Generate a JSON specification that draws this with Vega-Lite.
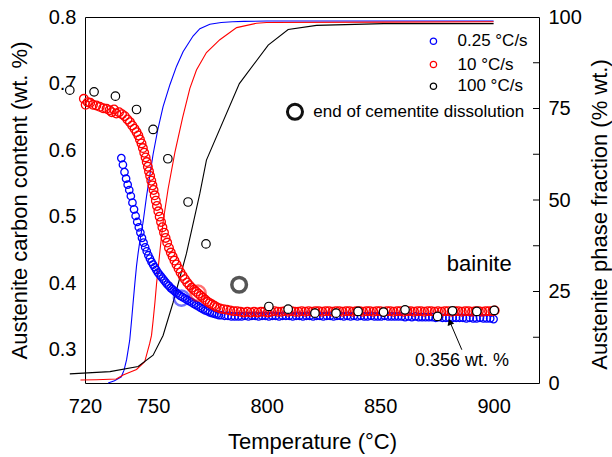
{
  "$schema": "https://vega.github.io/schema/vega-lite/v6.json",
  "width": 454,
  "height": 366,
  "autosize": {"type": "none"},
  "padding": {"left": 85, "top": 17, "right": 73, "bottom": 74},
  "config": {
    "font": "Liberation Sans",
    "view": {"stroke": "black", "strokeWidth": 1},
    "point": {"opacity": 1},
    "tick": {"opacity": 1},
    "axis": {
      "grid": false,
      "domain": false,
      "ticks": false,
      "labelColor": "black",
      "titleColor": "black",
      "labelFontSize": 20,
      "titleFontSize": 22,
      "titleFontWeight": "normal",
      "labelFlush": false,
      "labelOverlap": false
    }
  },
  "datasets": {
    "blue": [
      {"s":"0.25 °C/s","T":736.0,"C":0.588},{"s":"0.25 °C/s","T":736.7,"C":0.578},{"s":"0.25 °C/s","T":737.4,"C":0.567},{"s":"0.25 °C/s","T":738.1,"C":0.557},{"s":"0.25 °C/s","T":738.8,"C":0.548},{"s":"0.25 °C/s","T":739.5,"C":0.540},{"s":"0.25 °C/s","T":740.2,"C":0.531},{"s":"0.25 °C/s","T":740.9,"C":0.521},{"s":"0.25 °C/s","T":741.6,"C":0.511},{"s":"0.25 °C/s","T":742.3,"C":0.501},{"s":"0.25 °C/s","T":743.0,"C":0.492},{"s":"0.25 °C/s","T":743.7,"C":0.484},{"s":"0.25 °C/s","T":744.4,"C":0.476},{"s":"0.25 °C/s","T":745.1,"C":0.468},{"s":"0.25 °C/s","T":745.8,"C":0.461},{"s":"0.25 °C/s","T":746.5,"C":0.454},{"s":"0.25 °C/s","T":747.2,"C":0.448},{"s":"0.25 °C/s","T":747.9,"C":0.442},{"s":"0.25 °C/s","T":748.6,"C":0.437},{"s":"0.25 °C/s","T":749.3,"C":0.432},{"s":"0.25 °C/s","T":750.0,"C":0.428},{"s":"0.25 °C/s","T":750.7,"C":0.424},{"s":"0.25 °C/s","T":751.4,"C":0.420},{"s":"0.25 °C/s","T":752.1,"C":0.416},{"s":"0.25 °C/s","T":752.8,"C":0.413},{"s":"0.25 °C/s","T":753.5,"C":0.410},{"s":"0.25 °C/s","T":754.2,"C":0.407},{"s":"0.25 °C/s","T":754.9,"C":0.404},{"s":"0.25 °C/s","T":755.6,"C":0.401},{"s":"0.25 °C/s","T":756.3,"C":0.398},{"s":"0.25 °C/s","T":757.0,"C":0.396},{"s":"0.25 °C/s","T":757.7,"C":0.393},{"s":"0.25 °C/s","T":758.4,"C":0.391},{"s":"0.25 °C/s","T":759.1,"C":0.389},{"s":"0.25 °C/s","T":759.8,"C":0.387},{"s":"0.25 °C/s","T":760.5,"C":0.385},{"s":"0.25 °C/s","T":761.2,"C":0.383},{"s":"0.25 °C/s","T":762.0,"C":0.381},{"s":"0.25 °C/s","T":763.0,"C":0.379},{"s":"0.25 °C/s","T":764.0,"C":0.377},{"s":"0.25 °C/s","T":765.0,"C":0.375},{"s":"0.25 °C/s","T":766.0,"C":0.373},{"s":"0.25 °C/s","T":767.0,"C":0.371},{"s":"0.25 °C/s","T":768.0,"C":0.369},{"s":"0.25 °C/s","T":769.0,"C":0.367},{"s":"0.25 °C/s","T":770.0,"C":0.365},{"s":"0.25 °C/s","T":771.0,"C":0.363},{"s":"0.25 °C/s","T":772.0,"C":0.361},{"s":"0.25 °C/s","T":773.0,"C":0.359},{"s":"0.25 °C/s","T":774.0,"C":0.358},{"s":"0.25 °C/s","T":775.0,"C":0.356},{"s":"0.25 °C/s","T":776.0,"C":0.355},{"s":"0.25 °C/s","T":777.0,"C":0.354},{"s":"0.25 °C/s","T":778.0,"C":0.353},{"s":"0.25 °C/s","T":779.0,"C":0.352},{"s":"0.25 °C/s","T":780.0,"C":0.352},{"s":"0.25 °C/s","T":781.5,"C":0.351},{"s":"0.25 °C/s","T":783.0,"C":0.351},{"s":"0.25 °C/s","T":784.5,"C":0.350},{"s":"0.25 °C/s","T":786.0,"C":0.350},
      {"s":"0.25 °C/s","T":787.5,"C":0.350},{"s":"0.25 °C/s","T":789,"C":0.350},{"s":"0.25 °C/s","T":790.5,"C":0.351},{"s":"0.25 °C/s","T":792,"C":0.350},{"s":"0.25 °C/s","T":793.5,"C":0.351},{"s":"0.25 °C/s","T":795,"C":0.351},{"s":"0.25 °C/s","T":796.5,"C":0.350},{"s":"0.25 °C/s","T":798,"C":0.351},{"s":"0.25 °C/s","T":799.5,"C":0.351},{"s":"0.25 °C/s","T":801,"C":0.350},{"s":"0.25 °C/s","T":802.5,"C":0.351},{"s":"0.25 °C/s","T":804,"C":0.351},{"s":"0.25 °C/s","T":805.5,"C":0.350},{"s":"0.25 °C/s","T":807,"C":0.351},{"s":"0.25 °C/s","T":808.5,"C":0.351},{"s":"0.25 °C/s","T":810,"C":0.351},{"s":"0.25 °C/s","T":811.5,"C":0.350},{"s":"0.25 °C/s","T":813,"C":0.351},{"s":"0.25 °C/s","T":814.5,"C":0.351},{"s":"0.25 °C/s","T":816,"C":0.350},{"s":"0.25 °C/s","T":817.5,"C":0.351},{"s":"0.25 °C/s","T":819,"C":0.351},{"s":"0.25 °C/s","T":820.5,"C":0.350},{"s":"0.25 °C/s","T":822,"C":0.351},{"s":"0.25 °C/s","T":823.5,"C":0.351},{"s":"0.25 °C/s","T":825,"C":0.350},{"s":"0.25 °C/s","T":826.5,"C":0.351},{"s":"0.25 °C/s","T":828,"C":0.351},{"s":"0.25 °C/s","T":829.5,"C":0.350},{"s":"0.25 °C/s","T":831,"C":0.351},{"s":"0.25 °C/s","T":832.5,"C":0.351},{"s":"0.25 °C/s","T":834,"C":0.350},{"s":"0.25 °C/s","T":835.5,"C":0.351},{"s":"0.25 °C/s","T":837,"C":0.350},{"s":"0.25 °C/s","T":838.5,"C":0.351},{"s":"0.25 °C/s","T":840,"C":0.350},{"s":"0.25 °C/s","T":841.5,"C":0.351},{"s":"0.25 °C/s","T":843,"C":0.350},{"s":"0.25 °C/s","T":844.5,"C":0.350},{"s":"0.25 °C/s","T":846,"C":0.351},{"s":"0.25 °C/s","T":847.5,"C":0.350},{"s":"0.25 °C/s","T":849,"C":0.350},{"s":"0.25 °C/s","T":850.5,"C":0.350},{"s":"0.25 °C/s","T":852,"C":0.351},{"s":"0.25 °C/s","T":853.5,"C":0.350},{"s":"0.25 °C/s","T":855,"C":0.350},{"s":"0.25 °C/s","T":856.5,"C":0.350},{"s":"0.25 °C/s","T":858,"C":0.350},{"s":"0.25 °C/s","T":859.5,"C":0.350},{"s":"0.25 °C/s","T":861,"C":0.349},{"s":"0.25 °C/s","T":862.5,"C":0.350},{"s":"0.25 °C/s","T":864,"C":0.349},{"s":"0.25 °C/s","T":865.5,"C":0.350},{"s":"0.25 °C/s","T":867,"C":0.349},{"s":"0.25 °C/s","T":868.5,"C":0.349},{"s":"0.25 °C/s","T":870,"C":0.349},{"s":"0.25 °C/s","T":871.5,"C":0.349},{"s":"0.25 °C/s","T":873,"C":0.349},{"s":"0.25 °C/s","T":874.5,"C":0.348},{"s":"0.25 °C/s","T":876,"C":0.349},{"s":"0.25 °C/s","T":877.5,"C":0.348},{"s":"0.25 °C/s","T":879,"C":0.348},{"s":"0.25 °C/s","T":880.5,"C":0.348},{"s":"0.25 °C/s","T":882,"C":0.348},{"s":"0.25 °C/s","T":883.5,"C":0.348},{"s":"0.25 °C/s","T":885,"C":0.348},{"s":"0.25 °C/s","T":886.5,"C":0.348},{"s":"0.25 °C/s","T":888,"C":0.347},{"s":"0.25 °C/s","T":889.5,"C":0.348},{"s":"0.25 °C/s","T":891,"C":0.347},{"s":"0.25 °C/s","T":892.5,"C":0.347},{"s":"0.25 °C/s","T":894,"C":0.348},{"s":"0.25 °C/s","T":895.5,"C":0.347},{"s":"0.25 °C/s","T":897,"C":0.347},{"s":"0.25 °C/s","T":898.5,"C":0.347},{"s":"0.25 °C/s","T":900,"C":0.346}
    ],
    "red": [
      {"s":"10 °C/s","T":719.5,"C":0.677},{"s":"10 °C/s","T":720.3,"C":0.668},{"s":"10 °C/s","T":721.2,"C":0.672},{"s":"10 °C/s","T":722.3,"C":0.671},{"s":"10 °C/s","T":723.5,"C":0.668},{"s":"10 °C/s","T":725,"C":0.667},{"s":"10 °C/s","T":726.5,"C":0.665},{"s":"10 °C/s","T":728,"C":0.663},{"s":"10 °C/s","T":729.5,"C":0.662},{"s":"10 °C/s","T":730.8,"C":0.660},{"s":"10 °C/s","T":731.8,"C":0.657},{"s":"10 °C/s","T":732.8,"C":0.661},{"s":"10 °C/s","T":733.8,"C":0.655},{"s":"10 °C/s","T":735,"C":0.657},{"s":"10 °C/s","T":736.3,"C":0.654},{"s":"10 °C/s","T":737.5,"C":0.651},{"s":"10 °C/s","T":738.7,"C":0.646},{"s":"10 °C/s","T":739.8,"C":0.642},{"s":"10 °C/s","T":740.8,"C":0.637},{"s":"10 °C/s","T":741.8,"C":0.632},{"s":"10 °C/s","T":742.7,"C":0.627},{"s":"10 °C/s","T":743.5,"C":0.622},{"s":"10 °C/s","T":744.2,"C":0.616},{"s":"10 °C/s","T":744.9,"C":0.610},{"s":"10 °C/s","T":745.5,"C":0.603},{"s":"10 °C/s","T":746.1,"C":0.596},{"s":"10 °C/s","T":746.7,"C":0.589},{"s":"10 °C/s","T":747.2,"C":0.582},{"s":"10 °C/s","T":747.7,"C":0.575},{"s":"10 °C/s","T":748.2,"C":0.568},{"s":"10 °C/s","T":748.7,"C":0.561},{"s":"10 °C/s","T":749.2,"C":0.554},{"s":"10 °C/s","T":749.7,"C":0.547},{"s":"10 °C/s","T":750.2,"C":0.540},{"s":"10 °C/s","T":750.7,"C":0.532},{"s":"10 °C/s","T":751.2,"C":0.524},{"s":"10 °C/s","T":751.7,"C":0.516},{"s":"10 °C/s","T":752.3,"C":0.508},{"s":"10 °C/s","T":752.9,"C":0.500},{"s":"10 °C/s","T":753.5,"C":0.492},{"s":"10 °C/s","T":754.1,"C":0.484},{"s":"10 °C/s","T":754.8,"C":0.476},{"s":"10 °C/s","T":755.5,"C":0.468},{"s":"10 °C/s","T":756.2,"C":0.461},{"s":"10 °C/s","T":757.0,"C":0.453},{"s":"10 °C/s","T":757.8,"C":0.446},{"s":"10 °C/s","T":758.6,"C":0.440},{"s":"10 °C/s","T":759.4,"C":0.434},{"s":"10 °C/s","T":760.3,"C":0.428},{"s":"10 °C/s","T":761.2,"C":0.422},{"s":"10 °C/s","T":762.1,"C":0.416},{"s":"10 °C/s","T":763.0,"C":0.411},{"s":"10 °C/s","T":764.0,"C":0.406},{"s":"10 °C/s","T":765.0,"C":0.401},{"s":"10 °C/s","T":766.0,"C":0.397},{"s":"10 °C/s","T":767.0,"C":0.393},{"s":"10 °C/s","T":768.0,"C":0.390},{"s":"10 °C/s","T":769.0,"C":0.387},{"s":"10 °C/s","T":770.0,"C":0.384},{"s":"10 °C/s","T":771.0,"C":0.381},{"s":"10 °C/s","T":772.0,"C":0.378},{"s":"10 °C/s","T":773.0,"C":0.375},{"s":"10 °C/s","T":774.0,"C":0.372},{"s":"10 °C/s","T":775.0,"C":0.370},{"s":"10 °C/s","T":776.0,"C":0.368},{"s":"10 °C/s","T":777.0,"C":0.366},{"s":"10 °C/s","T":778.0,"C":0.364},{"s":"10 °C/s","T":779.5,"C":0.362},{"s":"10 °C/s","T":781,"C":0.361},{"s":"10 °C/s","T":782.5,"C":0.360},{"s":"10 °C/s","T":784,"C":0.359},{"s":"10 °C/s","T":785.5,"C":0.358},{"s":"10 °C/s","T":787,"C":0.358},
      {"s":"10 °C/s","T":788.5,"C":0.357},{"s":"10 °C/s","T":790,"C":0.356},{"s":"10 °C/s","T":791.5,"C":0.357},{"s":"10 °C/s","T":793,"C":0.356},{"s":"10 °C/s","T":794.5,"C":0.357},{"s":"10 °C/s","T":796,"C":0.356},{"s":"10 °C/s","T":797.5,"C":0.357},{"s":"10 °C/s","T":799,"C":0.357},{"s":"10 °C/s","T":800.5,"C":0.356},{"s":"10 °C/s","T":802,"C":0.357},{"s":"10 °C/s","T":803.5,"C":0.358},{"s":"10 °C/s","T":805,"C":0.357},{"s":"10 °C/s","T":806.5,"C":0.357},{"s":"10 °C/s","T":808,"C":0.358},{"s":"10 °C/s","T":809.5,"C":0.357},{"s":"10 °C/s","T":811,"C":0.358},{"s":"10 °C/s","T":812.5,"C":0.357},{"s":"10 °C/s","T":814,"C":0.357},{"s":"10 °C/s","T":815.5,"C":0.358},{"s":"10 °C/s","T":817,"C":0.357},{"s":"10 °C/s","T":818.5,"C":0.358},{"s":"10 °C/s","T":820,"C":0.357},{"s":"10 °C/s","T":821.5,"C":0.358},{"s":"10 °C/s","T":823,"C":0.358},{"s":"10 °C/s","T":824.5,"C":0.357},{"s":"10 °C/s","T":826,"C":0.358},{"s":"10 °C/s","T":827.5,"C":0.358},{"s":"10 °C/s","T":829,"C":0.357},{"s":"10 °C/s","T":830.5,"C":0.358},{"s":"10 °C/s","T":832,"C":0.358},{"s":"10 °C/s","T":833.5,"C":0.357},{"s":"10 °C/s","T":835,"C":0.358},{"s":"10 °C/s","T":836.5,"C":0.358},{"s":"10 °C/s","T":838,"C":0.357},{"s":"10 °C/s","T":839.5,"C":0.358},{"s":"10 °C/s","T":841,"C":0.358},{"s":"10 °C/s","T":842.5,"C":0.357},{"s":"10 °C/s","T":844,"C":0.358},{"s":"10 °C/s","T":845.5,"C":0.358},{"s":"10 °C/s","T":847,"C":0.357},{"s":"10 °C/s","T":848.5,"C":0.358},{"s":"10 °C/s","T":850,"C":0.358},{"s":"10 °C/s","T":851.5,"C":0.357},{"s":"10 °C/s","T":853,"C":0.358},{"s":"10 °C/s","T":854.5,"C":0.358},{"s":"10 °C/s","T":856,"C":0.357},{"s":"10 °C/s","T":857.5,"C":0.358},{"s":"10 °C/s","T":859,"C":0.358},{"s":"10 °C/s","T":860.5,"C":0.357},{"s":"10 °C/s","T":862,"C":0.358},{"s":"10 °C/s","T":863.5,"C":0.358},{"s":"10 °C/s","T":865,"C":0.357},{"s":"10 °C/s","T":866.5,"C":0.358},{"s":"10 °C/s","T":868,"C":0.358},{"s":"10 °C/s","T":869.5,"C":0.357},{"s":"10 °C/s","T":871,"C":0.358},{"s":"10 °C/s","T":872.5,"C":0.358},{"s":"10 °C/s","T":874,"C":0.357},{"s":"10 °C/s","T":875.5,"C":0.358},{"s":"10 °C/s","T":877,"C":0.357},{"s":"10 °C/s","T":878.5,"C":0.358},{"s":"10 °C/s","T":880,"C":0.358},{"s":"10 °C/s","T":881.5,"C":0.357},{"s":"10 °C/s","T":883,"C":0.358},{"s":"10 °C/s","T":884.5,"C":0.358},{"s":"10 °C/s","T":886,"C":0.357},{"s":"10 °C/s","T":887.5,"C":0.358},{"s":"10 °C/s","T":889,"C":0.358},{"s":"10 °C/s","T":890.5,"C":0.357},{"s":"10 °C/s","T":892,"C":0.358},{"s":"10 °C/s","T":893.5,"C":0.358},{"s":"10 °C/s","T":895,"C":0.357},{"s":"10 °C/s","T":896.5,"C":0.358},{"s":"10 °C/s","T":898,"C":0.358},{"s":"10 °C/s","T":899.5,"C":0.358},{"s":"10 °C/s","T":900.5,"C":0.359}
    ],
    "black": [
      {"s":"100 °C/s","T":713.3,"C":0.690},{"s":"100 °C/s","T":724,"C":0.6875},{"s":"100 °C/s","T":733.4,"C":0.681},{"s":"100 °C/s","T":742.7,"C":0.661},{"s":"100 °C/s","T":750,"C":0.631},{"s":"100 °C/s","T":756.5,"C":0.587},{"s":"100 °C/s","T":765.4,"C":0.522},{"s":"100 °C/s","T":773.3,"C":0.459},{"s":"100 °C/s","T":801,"C":0.365},{"s":"100 °C/s","T":809.5,"C":0.361},{"s":"100 °C/s","T":821.3,"C":0.355},{"s":"100 °C/s","T":830.6,"C":0.355},{"s":"100 °C/s","T":840.3,"C":0.3575},{"s":"100 °C/s","T":851.5,"C":0.3566},{"s":"100 °C/s","T":861,"C":0.360},{"s":"100 °C/s","T":875.3,"C":0.350},{"s":"100 °C/s","T":881.9,"C":0.3585},{"s":"100 °C/s","T":892.6,"C":0.3575},{"s":"100 °C/s","T":900.3,"C":0.359}
    ],
    "lines": [
      {"s":"0.25 °C/s","T":730.2,"F":0},{"s":"0.25 °C/s","T":733,"F":0.6},{"s":"0.25 °C/s","T":736,"F":1.7},{"s":"0.25 °C/s","T":737.2,"F":3.5},{"s":"0.25 °C/s","T":738.3,"F":6.3},{"s":"0.25 °C/s","T":739.0,"F":9},{"s":"0.25 °C/s","T":739.7,"F":11.7},{"s":"0.25 °C/s","T":740.5,"F":17},{"s":"0.25 °C/s","T":741.2,"F":22},{"s":"0.25 °C/s","T":742,"F":27.5},{"s":"0.25 °C/s","T":742.7,"F":32},{"s":"0.25 °C/s","T":743.4,"F":35.5},{"s":"0.25 °C/s","T":744.1,"F":38.5},{"s":"0.25 °C/s","T":745.6,"F":44},{"s":"0.25 °C/s","T":747.1,"F":51},{"s":"0.25 °C/s","T":748.5,"F":56.5},{"s":"0.25 °C/s","T":750,"F":62.5},{"s":"0.25 °C/s","T":752,"F":69},{"s":"0.25 °C/s","T":754.4,"F":75.5},{"s":"0.25 °C/s","T":757.4,"F":81.5},{"s":"0.25 °C/s","T":760.3,"F":86.5},{"s":"0.25 °C/s","T":763.2,"F":90.5},{"s":"0.25 °C/s","T":767.6,"F":94.8},{"s":"0.25 °C/s","T":770.6,"F":96.8},{"s":"0.25 °C/s","T":775,"F":98},{"s":"0.25 °C/s","T":780,"F":98.5},{"s":"0.25 °C/s","T":785,"F":98.7},{"s":"0.25 °C/s","T":790,"F":98.8},{"s":"0.25 °C/s","T":800,"F":98.9},{"s":"0.25 °C/s","T":850,"F":98.9},{"s":"0.25 °C/s","T":900,"F":98.9},
      {"s":"10 °C/s","T":718,"F":0.8},{"s":"10 °C/s","T":725,"F":0.9},{"s":"10 °C/s","T":733.8,"F":1.1},{"s":"10 °C/s","T":736.8,"F":2.2},{"s":"10 °C/s","T":740,"F":3},{"s":"10 °C/s","T":742.7,"F":3.7},{"s":"10 °C/s","T":746.3,"F":5.8},{"s":"10 °C/s","T":748.5,"F":10.8},{"s":"10 °C/s","T":749.3,"F":13},{"s":"10 °C/s","T":750,"F":17},{"s":"10 °C/s","T":750.8,"F":22},{"s":"10 °C/s","T":751.5,"F":27},{"s":"10 °C/s","T":753,"F":36},{"s":"10 °C/s","T":754.4,"F":44},{"s":"10 °C/s","T":756.6,"F":53},{"s":"10 °C/s","T":759.6,"F":63},{"s":"10 °C/s","T":763,"F":72.5},{"s":"10 °C/s","T":766.2,"F":80.5},{"s":"10 °C/s","T":769.1,"F":85.5},{"s":"10 °C/s","T":773.5,"F":90.3},{"s":"10 °C/s","T":779.4,"F":93.8},{"s":"10 °C/s","T":786.8,"F":97.1},{"s":"10 °C/s","T":795.6,"F":98.3},{"s":"10 °C/s","T":800,"F":98.5},{"s":"10 °C/s","T":850,"F":98.6},{"s":"10 °C/s","T":900,"F":98.7},
      {"s":"100 °C/s","T":713.3,"F":2.5},{"s":"100 °C/s","T":731,"F":3.1},{"s":"100 °C/s","T":743.4,"F":4.5},{"s":"100 °C/s","T":750,"F":7.6},{"s":"100 °C/s","T":754.4,"F":13},{"s":"100 °C/s","T":758.8,"F":22},{"s":"100 °C/s","T":764.7,"F":35.4},{"s":"100 °C/s","T":770.6,"F":51.8},{"s":"100 °C/s","T":773.5,"F":60.9},{"s":"100 °C/s","T":788,"F":81.8},{"s":"100 °C/s","T":800.7,"F":92.3},{"s":"100 °C/s","T":809.5,"F":96.6},{"s":"100 °C/s","T":822,"F":97.7},{"s":"100 °C/s","T":851.5,"F":98.2},{"s":"100 °C/s","T":900,"F":98.2}
    ],
    "xt": [{"T":750},{"T":775},{"T":800},{"T":825},{"T":850},{"T":875},{"T":900}],
    "yt": [{"C":0.3},{"C":0.35},{"C":0.4},{"C":0.45},{"C":0.5},{"C":0.55},{"C":0.6},{"C":0.65},{"C":0.7},{"C":0.75}],
    "ft": [{"F":12.5},{"F":25},{"F":37.5},{"F":50},{"F":62.5},{"F":75},{"F":87.5}],
    "legend": [
      {"s":"0.25 °C/s","T":873.5,"C":0.7636,"Tt":884.1},
      {"s":"10 °C/s","T":873.5,"C":0.7286,"Tt":884.1},
      {"s":"100 °C/s","T":873.5,"C":0.696,"Tt":884.1}
    ],
    "endblue": [{"T":762.5,"C":0.3776}],
    "endred": [{"T":769.8,"C":0.385}],
    "endblack": [{"T":787.9,"C":0.3976}],
    "legendcircle": [{"T":812.5,"C":0.6575,"t":"end of cementite dissolution","Tt":820.6}],
    "arrow": [{"T":886.0,"C":0.300,"T2":880.74,"C2":0.342}],
    "arrowhead": [{"T":880.74,"C":0.3419}],
    "labels": [
      {"T":879.4,"C":0.419,"t":"bainite"},
      {"T":865.4,"C":0.275,"t":"0.356 wt. %"}
    ]
  },
  "layer": [
    {
      "layer": [
        {
          "data": {"name": "lines"},
          "mark": {"type": "line", "strokeWidth": 1.1, "interpolate": "linear"},
          "encoding": {
            "x": {"field": "T", "type": "quantitative", "scale": {"domain": [720, 920], "nice": false, "zero": false}},
            "y": {
              "field": "F", "type": "quantitative",
              "scale": {"domain": [0, 100], "nice": false},
              "axis": {
                "orient": "right",
                "title": "Austenite phase fraction (% wt.)",
                "values": [0, 25, 50, 75, 100],
                "labelPadding": 9,
                "titleAngle": 270,
                "titleBaseline": "top",
                "titlePadding": 8,
                "titleY": 197
              }
            },
            "color": {
              "field": "s", "type": "nominal",
              "scale": {"domain": ["0.25 °C/s", "10 °C/s", "100 °C/s"], "range": ["#0000ff", "#ff0000", "#000000"]},
              "legend": null
            },
            "order": {"field": "T", "type": "quantitative"}
          }
        },
        {
          "data": {"name": "ft"},
          "mark": {"type": "tick", "orient": "horizontal", "size": 6, "thickness": 1, "xOffset": -3, "color": "black", "opacity": 1},
          "encoding": {
            "x": {"datum": 920, "type": "quantitative"},
            "y": {"field": "F", "type": "quantitative"}
          }
        }
      ]
    },
    {
      "encoding": {
        "x": {
          "field": "T", "type": "quantitative",
          "scale": {"domain": [720, 920], "nice": false, "zero": false},
          "axis": {
            "orient": "bottom",
            "title": "Temperature (°C)",
            "values": [720, 750, 800, 850, 900],
            "labelPadding": 13,
            "titlePadding": 15
          }
        },
        "y": {
          "field": "C", "type": "quantitative",
          "scale": {"domain": [0.25, 0.8], "nice": false, "zero": false},
          "axis": {
            "orient": "left",
            "title": "Austenite carbon content (wt. %)",
            "values": [0.3, 0.4, 0.5, 0.6, 0.7, 0.8],
            "format": ".1f",
            "labelPadding": 9,
            "titlePadding": 17
          }
        }
      },
      "layer": [
        {
          "mark": {"type": "rule", "strokeDash": [3, 3], "color": "#444444", "strokeWidth": 0.8},
          "encoding": {"x": null, "y": {"datum": 0.356, "type": "quantitative"}}
        },
        {
          "data": {"name": "xt"},
          "mark": {"type": "tick", "orient": "vertical", "size": 6, "thickness": 1, "yOffset": -3, "color": "black", "opacity": 1},
          "encoding": {"y": {"datum": 0.25, "type": "quantitative"}}
        },
        {
          "data": {"name": "xt"},
          "mark": {"type": "tick", "orient": "vertical", "size": 6, "thickness": 1, "yOffset": 3, "color": "black", "opacity": 1},
          "encoding": {"y": {"datum": 0.8, "type": "quantitative"}}
        },
        {
          "data": {"name": "yt"},
          "mark": {"type": "tick", "orient": "horizontal", "size": 6, "thickness": 1, "xOffset": 3, "color": "black", "opacity": 1},
          "encoding": {"x": {"datum": 720, "type": "quantitative"}}
        },
        {
          "data": {"name": "blue"},
          "mark": {"type": "point", "filled": false, "size": 55, "strokeWidth": 1.3, "opacity": 1},
          "encoding": {
            "stroke": {
              "field": "s", "type": "nominal",
              "scale": {"domain": ["0.25 °C/s", "10 °C/s", "100 °C/s"], "range": ["#0000ff", "#ff0000", "#000000"]},
              "legend": null
            }
          }
        },
        {
          "data": {"name": "red"},
          "mark": {"type": "point", "filled": false, "size": 75, "strokeWidth": 1.3, "opacity": 1},
          "encoding": {"stroke": {"field": "s", "type": "nominal", "legend": null}}
        },
        {
          "data": {"name": "endblue"},
          "mark": {"type": "point", "filled": false, "size": 230, "strokeWidth": 2.5, "color": "#0000ff", "opacity": 0.55}
        },
        {
          "data": {"name": "endred"},
          "mark": {"type": "point", "filled": false, "size": 230, "strokeWidth": 2.5, "color": "#ff0000", "opacity": 0.55}
        },
        {
          "data": {"name": "black"},
          "mark": {"type": "point", "filled": false, "size": 72, "strokeWidth": 1.2, "opacity": 1},
          "encoding": {"stroke": {"field": "s", "type": "nominal", "legend": null}, "fill": {"value": "white"}}
        },
        {
          "data": {"name": "endblack"},
          "mark": {"type": "point", "filled": false, "size": 214, "strokeWidth": 3.5, "color": "#555555", "opacity": 1}
        },
        {
          "data": {"name": "legend"},
          "mark": {"type": "point", "filled": false, "size": 40, "strokeWidth": 1.3, "opacity": 1},
          "encoding": {"stroke": {"field": "s", "type": "nominal", "legend": null}}
        },
        {
          "data": {"name": "legend"},
          "mark": {"type": "text", "align": "left", "baseline": "middle", "fontSize": 17, "color": "black"},
          "encoding": {"x": {"field": "Tt", "type": "quantitative"}, "text": {"field": "s"}}
        },
        {
          "data": {"name": "legendcircle"},
          "mark": {"type": "point", "filled": false, "size": 227, "strokeWidth": 3, "color": "#111111", "opacity": 1}
        },
        {
          "data": {"name": "legendcircle"},
          "mark": {"type": "text", "align": "left", "baseline": "middle", "fontSize": 17, "color": "black"},
          "encoding": {"x": {"field": "Tt", "type": "quantitative"}, "text": {"field": "t"}}
        },
        {
          "data": {"name": "labels"},
          "transform": [{"filter": "datum.t == 'bainite'"}],
          "mark": {"type": "text", "align": "left", "baseline": "alphabetic", "fontSize": 22, "color": "black"},
          "encoding": {"text": {"field": "t"}}
        },
        {
          "data": {"name": "labels"},
          "transform": [{"filter": "datum.t != 'bainite'"}],
          "mark": {"type": "text", "align": "left", "baseline": "alphabetic", "fontSize": 18, "color": "black"},
          "encoding": {"text": {"field": "t"}}
        },
        {
          "data": {"name": "arrow"},
          "mark": {"type": "rule", "color": "black", "strokeWidth": 1},
          "encoding": {"x2": {"field": "T2"}, "y2": {"field": "C2"}}
        },
        {
          "data": {"name": "arrowhead"},
          "mark": {"type": "point", "shape": "triangle-up", "filled": true, "size": 50, "angle": 340, "color": "black", "opacity": 1}
        }
      ]
    }
  ],
  "resolve": {"scale": {"y": "independent"}}
}
